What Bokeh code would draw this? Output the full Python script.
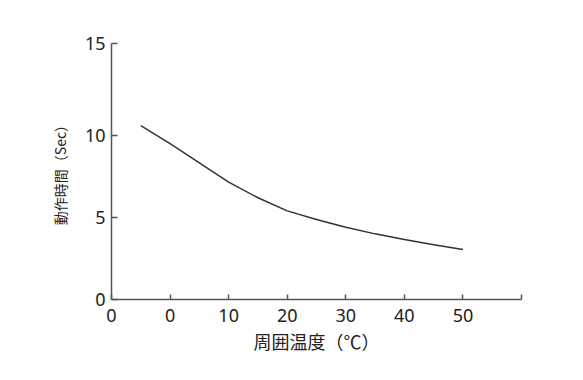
from bokeh.plotting import figure
from bokeh.models import FixedTicker, Range1d
from bokeh.embed import file_html
from bokeh.resources import INLINE

# data
temp = [-5, 0, 5, 10, 15, 20, 25, 30, 35, 40, 45, 50]
op_time = [10.6, 9.5, 8.32, 7.15, 6.2, 5.4, 4.88, 4.4, 4.0, 3.65, 3.33, 3.05]

x_ticks = [-10, 0, 10, 20, 30, 40, 50, 60]
x_tick_labels = ["0", "0", "10", "20", "30", "40", "50", ""]
y_ticks = [0, 5, 10, 15.6]
y_tick_labels = ["0", "5", "10", "15"]

FONT = "Noto Sans CJK JP"
TICK_FONT = "Noto Sans"

p = figure(frame_width=410, frame_height=256,
           min_border_left=111, min_border_right=47,
           min_border_top=43, min_border_bottom=73,
           x_range=Range1d(-10, 60), y_range=Range1d(0, 15.6),
           output_backend="svg", toolbar_location=None)

p.line(temp, op_time, line_color="#333333", line_width=1.5, line_join="round")

p.xgrid.visible = False
p.ygrid.visible = False
p.outline_line_color = None

for ax in (p.xaxis[0], p.yaxis[0]):
    ax.axis_line_color = "#555555"
    ax.axis_line_width = 1.5
    ax.major_tick_line_color = "#555555"
    ax.major_tick_line_width = 1.5
    ax.major_tick_out = 0
    ax.minor_tick_line_color = None
    ax.major_label_text_font = TICK_FONT
    ax.major_label_text_font_size = "18px"
    ax.major_label_text_color = "#222222"
    ax.axis_label_text_font = FONT
    ax.axis_label_text_font_style = "normal"
    ax.axis_label_text_color = "#222222"

p.xaxis[0].ticker = FixedTicker(ticks=x_ticks)
p.xaxis[0].major_label_overrides = {t: l for t, l in zip(x_ticks, x_tick_labels)}
p.xaxis[0].major_tick_in = 5
p.xaxis[0].major_label_standoff = 9
p.xaxis[0].axis_label = "周囲温度（℃）"
p.xaxis[0].axis_label_text_font_size = "18px"
p.xaxis[0].axis_label_standoff = 3

p.yaxis[0].ticker = FixedTicker(ticks=y_ticks)
p.yaxis[0].major_label_overrides = {t: l for t, l in zip(y_ticks, y_tick_labels)}
p.yaxis[0].major_tick_in = 6
p.yaxis[0].major_label_standoff = 6
p.yaxis[0].axis_label = "動作時間（Sec）"
p.yaxis[0].axis_label_text_font_size = "14px"
p.yaxis[0].axis_label_standoff = 12

open("out.html", "w").write(file_html(p, INLINE))
